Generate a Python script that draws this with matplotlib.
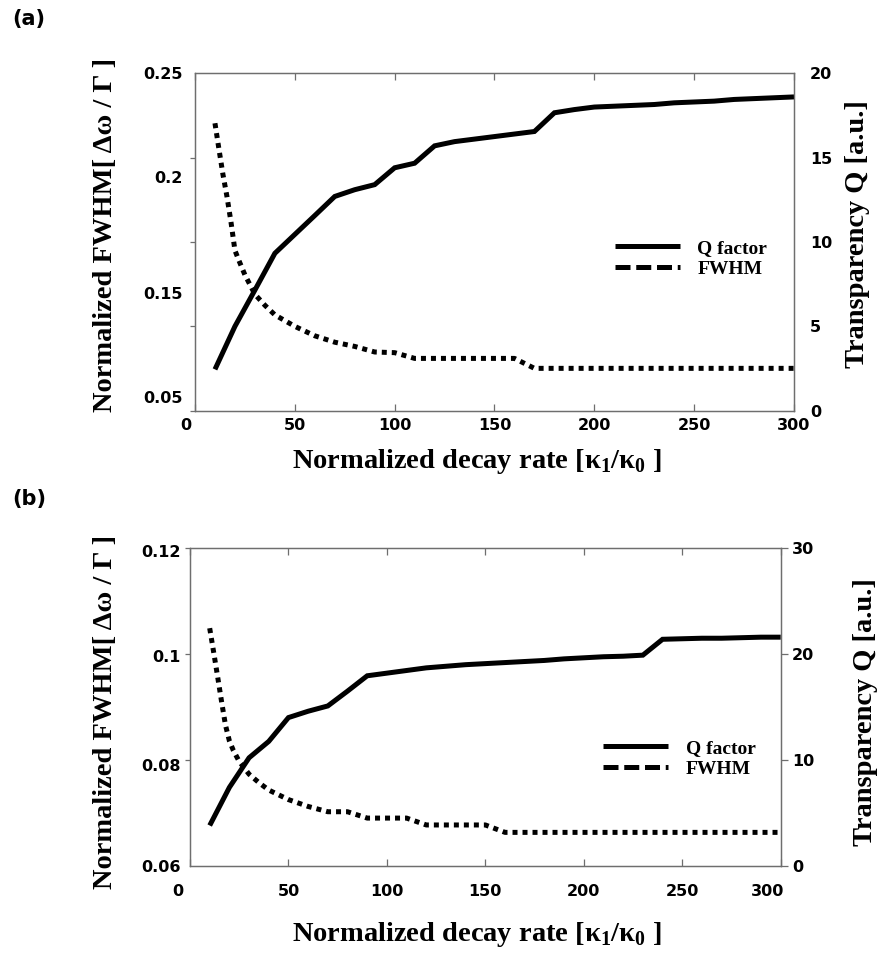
import matplotlib
matplotlib.use("Agg")
import matplotlib.pyplot as plt
import matplotlib.transforms as mtransforms
from matplotlib.lines import Line2D

# ---------------- data: panel (a) ----------------
q_x_a = [10, 20, 30, 40, 50, 60, 70, 80, 90, 100, 110, 120, 130, 140, 150,
         160, 170, 180, 190, 200, 210, 220, 230, 240, 250, 260, 270, 280, 290, 300]
q_a = [2.45, 5.0, 7.15, 9.33, 10.45, 11.57, 12.7, 13.1, 13.4, 14.4, 14.67, 15.7,
       15.95, 16.1, 16.25, 16.4, 16.55, 17.66, 17.85, 18.0, 18.05, 18.1, 18.15,
       18.25, 18.3, 18.35, 18.45, 18.5, 18.55, 18.6]

fwhm_x_a = [10, 12, 14, 16, 18, 20, 22, 25, 30, 35, 40, 50, 60, 70, 80, 90, 100,
            110, 120, 130, 140, 150, 160, 170, 180, 190, 200, 210, 220, 230, 240,
            250, 260, 270, 280, 290, 300]
fwhm_a = [0.2204, 0.205, 0.190, 0.177, 0.162, 0.145, 0.139, 0.1305, 0.1190,
          0.1125, 0.1068, 0.1000, 0.0944, 0.0906, 0.0881, 0.0848, 0.0844,
          0.0810, 0.0810, 0.0810, 0.0810, 0.0810, 0.0810, 0.0751, 0.0751,
          0.0751, 0.0751, 0.0751, 0.0751, 0.0751, 0.0751, 0.0751, 0.0751,
          0.0751, 0.0751, 0.0751, 0.0751]

# ---------------- data: panel (b) ----------------
q_x_b = [10, 20, 30, 40, 50, 60, 70, 80, 90, 100, 110, 120, 130, 140, 150,
         160, 170, 180, 190, 200, 210, 220, 230, 240, 250, 260, 270, 280, 290, 300]
q_b = [3.8, 7.4, 10.2, 11.75, 14.0, 14.6, 15.1, 16.5, 17.95, 18.2, 18.45, 18.7,
       18.85, 19.0, 19.1, 19.2, 19.3, 19.4, 19.55, 19.65, 19.75, 19.8, 19.9,
       21.4, 21.45, 21.5, 21.5, 21.55, 21.6, 21.6]

fwhm_x_b = [10, 12, 14, 16, 18, 20, 22, 25, 30, 35, 40, 50, 60, 70, 80, 90, 100,
            110, 120, 130, 140, 150, 160, 170, 180, 190, 200, 210, 220, 230, 240,
            250, 260, 270, 280, 290, 300]
fwhm_b = [0.1049, 0.1004, 0.0958, 0.0911, 0.0866, 0.0836, 0.0818, 0.0797,
          0.0773, 0.0757, 0.0743, 0.0725, 0.0712, 0.0702, 0.0702, 0.0690,
          0.0690, 0.0690, 0.0677, 0.0677, 0.0677, 0.0677, 0.0663, 0.0663,
          0.0663, 0.0663, 0.0663, 0.0663, 0.0663, 0.0663, 0.0663, 0.0663,
          0.0663, 0.0663, 0.0663, 0.0663, 0.0663]

# ---------------- ticks & labels ----------------
x_ticks = [0, 50, 100, 150, 200, 250, 300]
x_tick_labels = ["0", "50", "100", "150", "200", "250", "300"]

left_marks_a = [0.05, 0.10, 0.15, 0.20, 0.25]
left_label_pos_a = [0.0583, 0.1196, 0.1887, 0.25]
left_labels_a = ["0.05", "0.15", "0.2", "0.25"]
right_ticks_a = [0, 5, 10, 15, 20]
right_labels_a = ["0", "5", "10", "15", "20"]

left_marks_b = [0.06, 0.08, 0.10, 0.12]
left_label_pos_b = [0.06, 0.079, 0.0997, 0.1195]
left_labels_b = ["0.06", "0.08", "0.1", "0.12"]
right_ticks_b = [0, 10, 20, 30]
right_labels_b = ["0", "10", "20", "30"]

xlabel_text = "Normalized decay rate [κ$_\\mathregular{1}$/κ$_\\mathregular{0}$ ]"
ylabel_left_text = "Normalized FWHM[ Δω / Γ ]"
ylabel_right_text = "Transparency Q [a.u.]"
legend_labels = ["Q factor", "FWHM"]
panel_tags = ["(a)", "(b)"]

SERIF = "Liberation Serif"
SANS = "DejaVu Sans"
SPINE = "#6e6e6e"
LW = 3.6

fig = plt.figure(figsize=(8.81, 9.59), dpi=100)


def px(v, total):
    return v / total


def panel(rect, xq, q, xf, f, ylim_l, ylim_r, lmarks, lpos, llabs, rticks, rlabs,
          left_pad, right_pad, right_len, xpad, ylab_l_xy, ylab_r_xy, xlab_xy,
          leg_xy, x_offsets):
    ax = fig.add_axes(rect)
    ax2 = ax.twinx()
    ax.set_xlim(0, 300)
    ax.set_ylim(*ylim_l)
    ax2.set_ylim(*ylim_r)

    ax.plot(xf, f, color="black", lw=LW, linestyle=(0, (1, 1)),
            dash_capstyle="butt", solid_capstyle="butt")
    ax2.plot(xq, q, color="black", lw=LW, solid_capstyle="butt",
             solid_joinstyle="miter")

    for a in (ax, ax2):
        for s in a.spines.values():
            s.set_color(SPINE)
            s.set_linewidth(0.9)

    ax.set_xticks(x_ticks, labels=x_tick_labels)
    ax.tick_params(axis="x", which="major", direction="in", top=True, bottom=True,
                   length=5, width=0.9, color=SPINE, pad=xpad, labelsize=11.5)
    ax.set_yticks(lpos, labels=llabs)
    ax.set_yticks(lmarks, minor=True)
    ax.tick_params(axis="y", which="major", length=0, pad=left_pad, labelsize=11.5)
    ax.tick_params(axis="y", which="minor", direction="out", length=3.6,
                   width=0.9, color=SPINE)
    ax2.set_yticks(rticks, labels=rlabs)
    ax2.tick_params(axis="y", which="major", direction="out", length=right_len,
                    width=0.9, color=SPINE, pad=right_pad, labelsize=11.5)

    for lab in ax.get_xticklabels() + ax.get_yticklabels() + ax2.get_yticklabels():
        lab.set_fontfamily(SANS)
        lab.set_fontweight("bold")

    xl = ax.get_xticklabels()
    for i, dx in x_offsets.items():
        xl[i].set_transform(xl[i].get_transform() +
                            mtransforms.ScaledTranslation(dx / 100.0, 0, fig.dpi_scale_trans))

    ax.set_xlabel(xlabel_text, fontfamily=SERIF, fontweight="bold", fontsize=20.5)
    ax.xaxis.set_label_coords(*xlab_xy)
    ax.set_ylabel(ylabel_left_text, fontfamily=SERIF, fontweight="bold", fontsize=20.5)
    ax.yaxis.set_label_coords(*ylab_l_xy)
    ax2.set_ylabel(ylabel_right_text, fontfamily=SERIF, fontweight="bold", fontsize=20.5)
    ax2.yaxis.set_label_coords(*ylab_r_xy)

    handles = [Line2D([], [], color="black", lw=LW, solid_capstyle="butt"),
               Line2D([], [], color="black", lw=LW, linestyle=(0, (3, 1.15)),
                      dash_capstyle="butt")]
    ax2.legend(handles, legend_labels, loc="upper left", bbox_to_anchor=leg_xy,
               frameon=False, borderpad=0, borderaxespad=0, handlelength=3.35,
               handletextpad=0.88, labelspacing=0.19,
               prop={"family": SERIF, "weight": "bold", "size": 14})
    return ax, ax2


W, H = 881.0, 959.0
panel([195 / W, 1 - 410.7 / H, 599 / W, 337.4 / H],
      q_x_a, q_a, fwhm_x_a, fwhm_a, (0.05, 0.25), (0, 20),
      left_marks_a, left_label_pos_a, left_labels_a, right_ticks_a, right_labels_a,
      left_pad=8.9, right_pad=11.5, right_len=0, xpad=5,
      ylab_l_xy=(-0.1285, 0.522), ylab_r_xy=(1.0851, 0.5245),
      xlab_xy=(0.4708, -0.1076), leg_xy=(0.701, 0.509), x_offsets={0: -9})

panel([190 / W, 1 - 865.7 / H, 590.7 / W, 317.4 / H],
      q_x_b, q_b, fwhm_x_b, fwhm_b, (0.06, 0.12), (0, 30),
      left_marks_b, left_label_pos_b, left_labels_b, right_ticks_b, right_labels_b,
      left_pad=6.8, right_pad=3.0, right_len=5, xpad=13,
      ylab_l_xy=(-0.1219, 0.4855), ylab_r_xy=(1.1224, 0.4855),
      xlab_xy=(0.486, -0.171), leg_xy=(0.6997, 0.399), x_offsets={0: -12, 6: -13})

fig.text(12 / W, 1 - 19 / H, panel_tags[0], ha="left", va="center",
         fontfamily=SANS, fontweight="bold", fontsize=15)
fig.text(12 / W, 1 - 499 / H, panel_tags[1], ha="left", va="center",
         fontfamily=SANS, fontweight="bold", fontsize=15)

fig.savefig("out.png", dpi=100)
